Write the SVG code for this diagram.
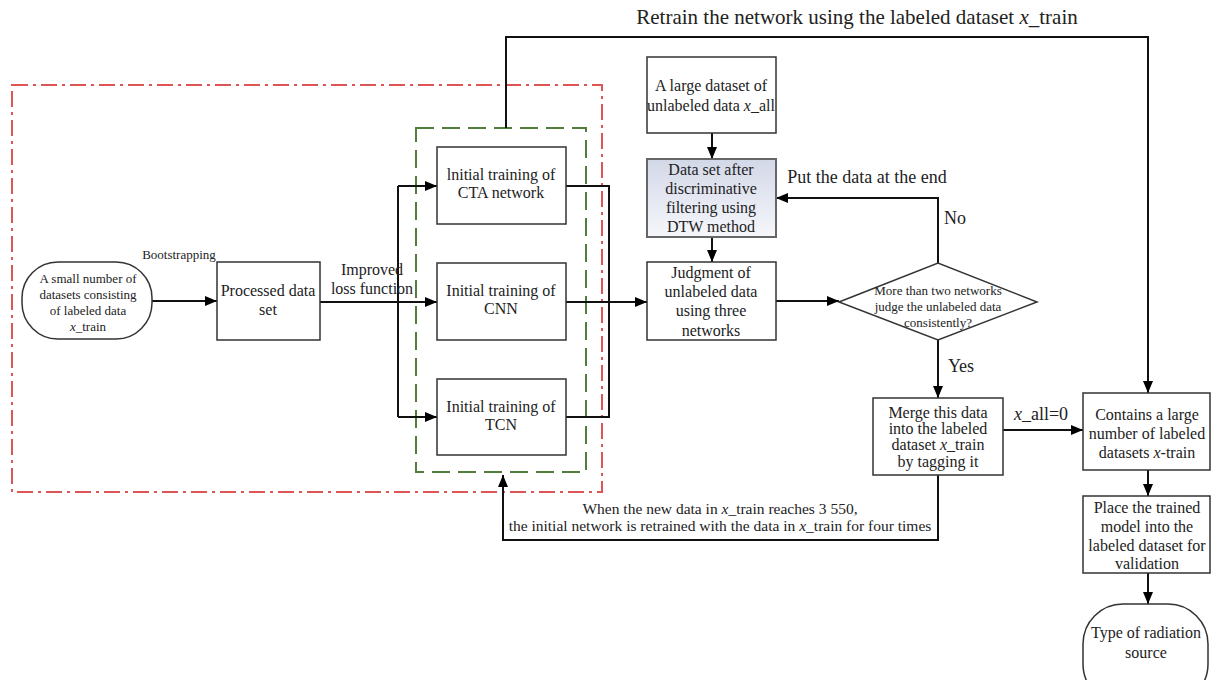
<svg xmlns="http://www.w3.org/2000/svg" width="1212" height="680" viewBox="0 0 1212 680">
<defs>
<marker id="arr" markerUnits="userSpaceOnUse" markerWidth="13" markerHeight="11" refX="12" refY="5" orient="auto">
<path d="M0,0 L12,5 L0,10 z" fill="#000"/>
</marker>
<linearGradient id="dtwg" x1="0" y1="0" x2="0" y2="1">
<stop offset="0" stop-color="#d3d8e8"/>
<stop offset="1" stop-color="#f6f7fb"/>
</linearGradient>
<style>
text{font-family:"Liberation Serif","Times New Roman",serif;fill:#222;text-anchor:middle}
.box{fill:#fff;stroke:#333;stroke-width:1.5}
.c{fill:none;stroke:#111;stroke-width:2}
.a{marker-end:url(#arr)}
.t16{font-size:16px}
.t13{font-size:13px}
.t18{font-size:18px}
.i{font-style:italic}
</style>
</defs>
<rect width="1212" height="680" fill="#fff"/>

<g id="regions">
<rect x="12" y="85" width="590" height="407" fill="none" stroke="#dd5555" stroke-width="2" stroke-dasharray="16 5 3 5"/>
<rect x="416" y="128" width="170" height="344" fill="none" stroke="#4f7f3a" stroke-width="2" stroke-dasharray="18 8"/>
</g>

<g id="connectors">
<path class="c a" d="M152,301 H217"/>
<path class="c a" d="M320,302 H437"/>
<path class="c" d="M398,186 V417"/>
<path class="c a" d="M398,186 H437"/>
<path class="c a" d="M398,417 H437"/>
<path class="c" d="M566,186 H609 V417 H566"/>
<path class="c a" d="M566,302 H647"/>
<path class="c a" d="M506,128 V37 H1148 V393"/>
<path class="c a" d="M712,133 V159"/>
<path class="c a" d="M712,237 V262"/>
<path class="c a" d="M776,301 H839"/>
<path class="c a" d="M938,263 V198 H776"/>
<path class="c a" d="M938,340 V398"/>
<path class="c a" d="M1003,430 H1083"/>
<path class="c a" d="M938,475 V540 H503 V475"/>
<path class="c a" d="M1148,470 V496"/>
<path class="c a" d="M1148,573 V604"/>
</g>

<g id="labels">
<text x="857" y="24" style="font-size:21px">Retrain the network using the labeled dataset <tspan class="i">x</tspan>_train</text>
<text x="179" y="259" class="t13">Bootstrapping</text>
<text x="372" y="275" class="t16">Improved</text>
<text x="372" y="294" class="t16">loss function</text>
<text x="867" y="183" class="t18">Put the data at the end</text>
<text x="955" y="224" class="t18">No</text>
<text x="961" y="372" class="t18">Yes</text>
<text x="1041" y="420" class="t18"><tspan class="i">x</tspan>_all=0</text>
<text x="720" y="514" style="font-size:15.5px">When the new data in <tspan class="i">x</tspan>_train reaches 3 550,</text>
<text x="720" y="531" style="font-size:15.5px">the initial network is retrained with the data in <tspan class="i">x</tspan>_train for four times</text>
</g>

<g id="start">
<rect x="22" y="262" width="130" height="77" rx="36" class="box"/>
<text x="88" y="283" class="t13">A small number of</text>
<text x="88" y="299" class="t13">datasets consisting</text>
<text x="88" y="315" class="t13">of labeled data</text>
<text x="88" y="331" class="t13"><tspan class="i">x</tspan>_train</text>
</g>

<g id="processed">
<rect x="217" y="262" width="103" height="78" class="box"/>
<text x="268" y="296" class="t16">Processed data</text>
<text x="268" y="315" class="t16">set</text>
</g>

<g id="cta">
<rect x="437" y="147" width="129" height="77" class="box"/>
<text x="501" y="180" class="t16">lnitial training of</text>
<text x="501" y="198" class="t16">CTA network</text>
</g>

<g id="cnn">
<rect x="437" y="263" width="129" height="77" class="box"/>
<text x="501" y="296" class="t16">Initial training of</text>
<text x="501" y="314" class="t16">CNN</text>
</g>

<g id="tcn">
<rect x="437" y="379" width="129" height="76" class="box"/>
<text x="501" y="412" class="t16">Initial training of</text>
<text x="501" y="430" class="t16">TCN</text>
</g>

<g id="large">
<rect x="647" y="57" width="129" height="76" class="box"/>
<text x="711" y="91" class="t16">A large dataset of</text>
<text x="711" y="111" class="t16">unlabeled data <tspan class="i">x</tspan>_all</text>
</g>

<g id="dtw">
<rect x="647" y="159" width="129" height="78" fill="url(#dtwg)" stroke="#666" stroke-width="2"/>
<text x="711" y="175" class="t16">Data set after</text>
<text x="711" y="194" class="t16">discriminative</text>
<text x="711" y="213" class="t16">filtering using</text>
<text x="711" y="232" class="t16">DTW method</text>
</g>

<g id="judgment">
<rect x="647" y="262" width="129" height="78" class="box"/>
<text x="711" y="278" class="t16">Judgment of</text>
<text x="711" y="297" class="t16">unlabeled data</text>
<text x="711" y="316" class="t16">using three</text>
<text x="711" y="336" class="t16">networks</text>
</g>

<g id="decision">
<polygon points="839,302 938,263 1037,302 938,340" class="box"/>
<text x="938" y="295" class="t13">More than two networks</text>
<text x="938" y="311" class="t13">judge the unlabeled data</text>
<text x="938" y="327" class="t13">consistently?</text>
</g>

<g id="merge">
<rect x="873" y="398" width="130" height="77" class="box"/>
<text x="938" y="418" class="t16">Merge this data</text>
<text x="938" y="434" class="t16">into the labeled</text>
<text x="938" y="450" class="t16">dataset <tspan class="i">x</tspan>_train</text>
<text x="938" y="467" class="t16">by tagging it</text>
</g>

<g id="contains">
<rect x="1083" y="393" width="127" height="77" class="box"/>
<text x="1147" y="420" class="t16">Contains a large</text>
<text x="1147" y="439" class="t16">number of labeled</text>
<text x="1147" y="458" class="t16">datasets <tspan class="i">x</tspan>-train</text>
</g>

<g id="place">
<rect x="1083" y="496" width="127" height="77" class="box"/>
<text x="1147" y="513" class="t16">Place the trained</text>
<text x="1147" y="532" class="t16">model into the</text>
<text x="1147" y="551" class="t16">labeled dataset for</text>
<text x="1147" y="569" class="t16">validation</text>
</g>

<g id="type">
<rect x="1083" y="604" width="125" height="100" rx="40" class="box"/>
<text x="1146" y="638" class="t16">Type of radiation</text>
<text x="1146" y="658" class="t16">source</text>
</g>
</svg>
